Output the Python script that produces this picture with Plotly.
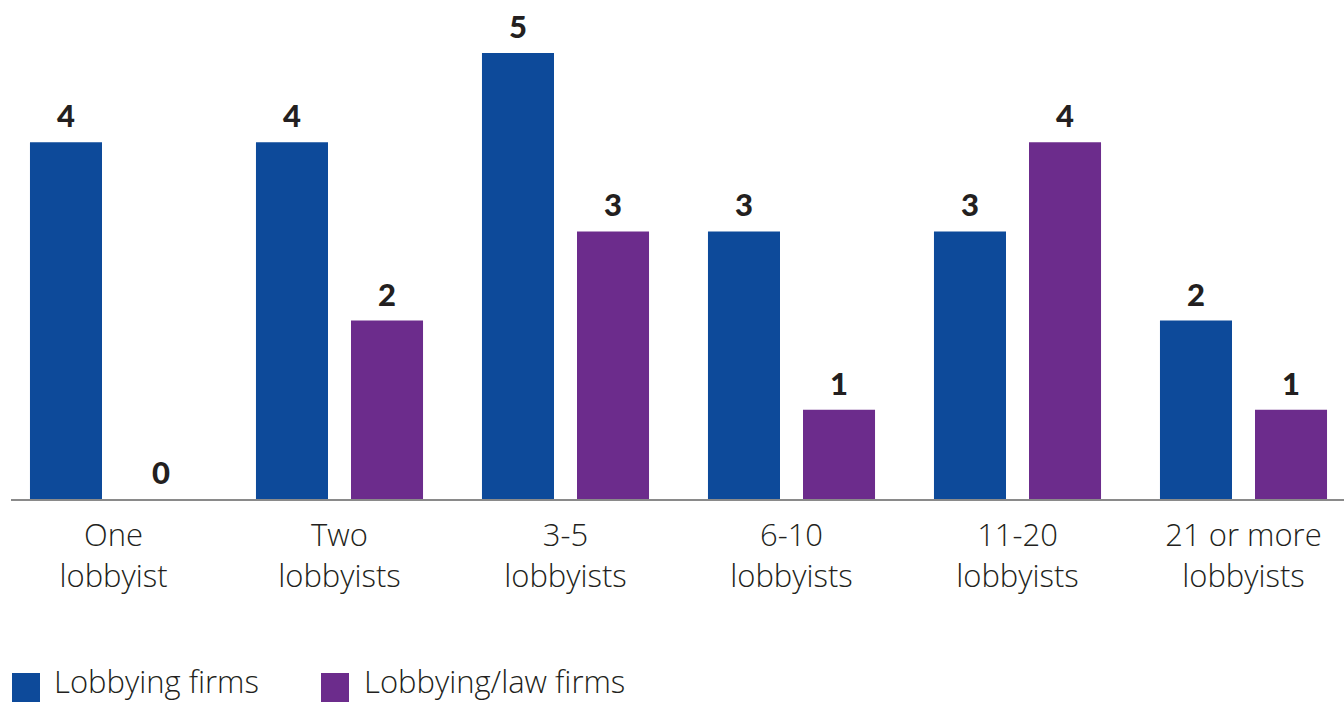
import plotly.graph_objects as go

categories = ["One<br>lobbyist", "Two<br>lobbyists", "3-5<br>lobbyists", "6-10<br>lobbyists",
              "11-20<br>lobbyists", "21 or more<br>lobbyists"]
series_names = ["Lobbying firms", "Lobbying/law firms"]
lobbying_firms = [4, 4, 5, 3, 3, 2]
lobbying_law_firms = [0, 2, 3, 1, 4, 1]
colors = ["#0d4a9a", "#6c2c8c"]

W, H = 1344, 704
ML, MT = 11, 0
PLOT_H = 499
MB = H - MT - PLOT_H
PLOT_W = W - ML
cat_px = 226.0
r0 = -(113.5 - ML) / cat_px
r1 = r0 + PLOT_W / cat_px
y_top = PLOT_H / 89.2

LABEL_FONT = "Open Sans"

fig = go.Figure()
for name, vals, col in zip(series_names, [lobbying_firms, lobbying_law_firms], colors):
    fig.add_trace(go.Bar(x=list(range(len(categories))), y=vals, name=name,
                         marker=dict(color=col, line=dict(width=0)), showlegend=False,
                         hoverinfo="skip"))

# value labels
annotations = []
n = len(series_names)
offsets = [-0.2102, 0.2102]
for k, vals in enumerate([lobbying_firms, lobbying_law_firms]):
    for i, v in enumerate(vals):
        annotations.append(dict(x=i + offsets[k], y=v, xref="x", yref="y", text=str(v),
                                showarrow=False, yanchor="bottom", yshift=6,
                                font=dict(family="Lato", size=31, color="#231f20", weight=900)))

# legend (manual, large squares)
leg_x = [12, 321]
leg_text_x = [52, 362]
shapes = []
for k in range(n):
    shapes.append(dict(type="rect", xref="paper", yref="paper", xsizemode="pixel", ysizemode="pixel",
                       xanchor=0, yanchor=0, x0=leg_x[k] - ML, x1=leg_x[k] - ML + 28,
                       y0=-(702 - PLOT_H), y1=-(673 - PLOT_H),
                       fillcolor=colors[k], line=dict(width=0)))
    annotations.append(dict(x=(leg_text_x[k] - ML) / PLOT_W, y=(PLOT_H - 681) / PLOT_H,
                            xref="paper", yref="paper", text=series_names[k], showarrow=False,
                            xanchor="left", yanchor="middle",
                            font=dict(family=LABEL_FONT, size=31, color="#231f20", weight=300)))

fig.update_layout(
    width=W, height=H,
    margin=dict(l=ML, r=0, t=MT, b=MB, pad=0),
    paper_bgcolor="white", plot_bgcolor="white",
    barmode="group", bargap=0.159, bargroupgap=0.242,
    annotations=annotations, shapes=shapes,
    xaxis=dict(range=[r0, r1], tickmode="array", tickvals=list(range(len(categories))),
               ticktext=categories, showgrid=False, zeroline=False, showline=True,
               linecolor="#8a8a8a", linewidth=2, ticks="", ticklabelstandoff=8,
               tickfont=dict(family=LABEL_FONT, size=31, color="#231f20", weight=300)),
    yaxis=dict(range=[0, y_top], visible=False, showgrid=False, zeroline=False),
    showlegend=False,
)

fig.write_html("out.html", config={"displayModeBar": False},
               post_script="document.body.style.margin='0';")
